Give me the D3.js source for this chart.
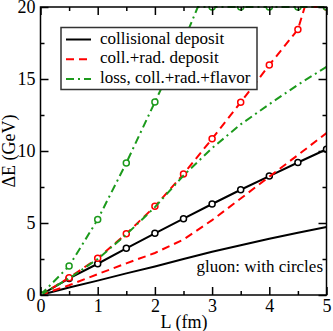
<!DOCTYPE html>
<html>
<head>
<meta charset="utf-8">
<script src="https://cdn.jsdelivr.net/npm/d3@7"></script>
<style>
  body { margin: 0; background: #fff; }
  text { font-family: "Liberation Serif", "Times New Roman", serif; fill: #000; }
</style>
</head>
<body>
<svg id="main-svg" width="333" height="331"></svg>
<script>
// values, L in fm, dE in GeV
var xTicks = [0, 1, 2, 3, 4, 5]
var yTicks = [0, 5, 10, 15, 20]
var legendLabels = ['collisional deposit', 'coll.+rad. deposit', 'loss, coll.+rad.+flavor']

var quarkCollL = [0, 0.5, 1, 1.5, 2, 2.5, 3, 3.5, 4, 4.5, 5]
var quarkColl = [0, 0.52, 1.0, 1.5, 1.98, 2.5, 3.0, 3.45, 3.9, 4.32, 4.72]
var gluonCollL = [0, 0.5, 1, 1.5, 2, 2.5, 3, 3.5, 4, 4.5, 5]
var gluonColl = [0, 1.15, 2.17, 3.24, 4.28, 5.3, 6.32, 7.31, 8.26, 9.2, 10.12]

var quarkRadL = [0, 0.5, 1, 1.5, 2, 2.5, 3, 3.5, 4, 4.5, 5]
var quarkRad = [0, 0.68, 1.45, 2.2, 2.92, 3.85, 5.2, 6.7, 8.22, 9.72, 11.25]
var gluonRadL = [0, 0.5, 1, 1.5, 2, 2.5, 3, 3.5, 4, 4.5, 4.62, 5]
var gluonRad = [0, 1.2, 2.55, 4.25, 6.16, 8.4, 10.85, 13.38, 15.97, 18.44, 20, 20]

var quarkLossL = [0, 0.5, 1, 1.5, 2, 2.5, 3, 3.5, 4, 4.5, 5]
var quarkLoss = [0, 1.15, 2.5, 4.2, 6.1, 8.3, 10.2, 11.85, 13.25, 14.6, 15.85]
var gluonLossL = [0, 0.5, 1, 1.5, 2, 2.5, 2.75, 3, 3.5, 4, 4.5, 5]
var gluonLoss = [0, 2.01, 5.24, 9.17, 13.4, 17.6, 20, 20, 20, 20, 20, 20]

var black = '#000000', red = '#ff0000', green = '#1c9a1c'
var solid = null, dashed = '8,5', dashdot = '8,4,2,4'
var serif = '"Liberation Serif", "Times New Roman", serif'

// series: [L, dE, colour, dash, circles]
var series = [
    [quarkCollL, quarkColl, black, solid, false],
    [gluonCollL, gluonColl, black, solid, true],
    [quarkRadL, quarkRad, red, dashed, false],
    [gluonRadL, gluonRad, red, dashed, true],
    [quarkLossL, quarkLoss, green, dashdot, false],
    [gluonLossL, gluonLoss, green, dashdot, true]
]

var svg = d3.select('#main-svg')
// plot frame (window.top is reserved, hence the prefix)
var pLeft = 40.5, pRight = 326.5, pTop = 7, pBottom = 295

var x = d3.scaleLinear().domain([0, 5]).range([pLeft, pRight])
var y = d3.scaleLinear().domain([0, 20]).range([pBottom, pTop])

svg.append('clipPath').attr('id', 'plot-clip')
    .append('rect')
    .attr('x', pLeft).attr('y', pTop - 1)
    .attr('width', pRight - pLeft).attr('height', pBottom - pTop + 1)

var plot = svg.append('g').attr('clip-path', 'url(#plot-clip)')
var line = d3.line().x(function(d) { return x(d[0]) }).y(function(d) { return y(d[1]) })

for (var i = 0; i < series.length; i++) {
    var s = series[i]
    var pts = d3.zip(s[0], s[1])
    plot.append('path')
        .attr('d', line(pts))
        .attr('fill', 'none')
        .attr('stroke', s[2])
        .attr('stroke-width', 2)
        .attr('stroke-dasharray', s[3])
    if (s[4]) {
        // symbols only every half fm
        plot.selectAll(null)
            .data(pts.filter(function(d) { return Math.abs(d[0] * 2 - Math.round(d[0] * 2)) < 1e-6 }))
            .enter().append('circle')
            .attr('cx', function(d) { return x(d[0]) })
            .attr('cy', function(d) { return y(d[1]) })
            .attr('r', 3)
            .attr('fill', '#fff')
            .attr('stroke', s[2])
            .attr('stroke-width', 1.5)
    }
}

// axes, ticks inside on all four sides
var xAxB = d3.axisBottom(x).tickValues(xTicks).tickSize(-8).tickPadding(4).tickFormat(d3.format('d'))
var xAxT = d3.axisTop(x).tickValues(xTicks).tickSize(-8).tickFormat('')
var yAxL = d3.axisLeft(y).tickValues(yTicks).tickSize(-8).tickPadding(5).tickFormat(d3.format('d'))
var yAxR = d3.axisRight(y).tickValues(yTicks).tickSize(-8).tickFormat('')
var xMinor = d3.range(0.5, 5, 1)
var yMinor = d3.range(2.5, 20, 5)

function styleAxis(g) {
    g.select('.domain').remove()
    g.selectAll('line').attr('stroke', '#000').attr('stroke-width', 1.5)
    g.selectAll('text').attr('font-size', 18).attr('font-family', serif)
}

svg.append('g').attr('transform', 'translate(0,' + pBottom + ')').call(xAxB).call(styleAxis)
svg.append('g').attr('transform', 'translate(0,' + pTop + ')').call(xAxT).call(styleAxis)
svg.append('g').attr('transform', 'translate(' + pLeft + ',0)').call(yAxL).call(styleAxis)
svg.append('g').attr('transform', 'translate(' + pRight + ',0)').call(yAxR).call(styleAxis)

svg.append('g').attr('transform', 'translate(0,' + pBottom + ')')
    .call(d3.axisBottom(x).tickValues(xMinor).tickSize(-4).tickFormat('')).call(styleAxis)
svg.append('g').attr('transform', 'translate(0,' + pTop + ')')
    .call(d3.axisTop(x).tickValues(xMinor).tickSize(-4).tickFormat('')).call(styleAxis)
svg.append('g').attr('transform', 'translate(' + pLeft + ',0)')
    .call(d3.axisLeft(y).tickValues(yMinor).tickSize(-4).tickFormat('')).call(styleAxis)
svg.append('g').attr('transform', 'translate(' + pRight + ',0)')
    .call(d3.axisRight(y).tickValues(yMinor).tickSize(-4).tickFormat('')).call(styleAxis)

svg.append('rect')
    .attr('x', pLeft).attr('y', pTop)
    .attr('width', pRight - pLeft).attr('height', pBottom - pTop)
    .attr('fill', 'none').attr('stroke', '#000').attr('stroke-width', 1.5)

// axis titles
svg.append('text')
    .attr('x', 184).attr('y', 328)
    .attr('text-anchor', 'middle').attr('font-size', 18)
    .text('L (fm)')
svg.append('text')
    .attr('transform', 'translate(15,151) rotate(-90)')
    .attr('text-anchor', 'middle').attr('font-size', 18)
    .text('ΔE (GeV)')

svg.append('text')
    .attr('x', 323).attr('y', 272)
    .attr('text-anchor', 'end').attr('font-size', 17)
    .text('gluon: with circles')

// legend box
var legend = svg.append('g')
legend.append('rect')
    .attr('x', 61).attr('y', 27.5).attr('width', 196).attr('height', 62)
    .attr('fill', '#fff').attr('stroke', '#333').attr('stroke-width', 1.5)
var legendStyles = [[black, solid], [red, dashed], [green, dashdot]]
for (var j = 0; j < legendLabels.length; j++) {
    var ly = 39.5 + j * 19.7
    legend.append('line')
        .attr('x1', 66).attr('x2', 91).attr('y1', ly).attr('y2', ly)
        .attr('stroke', legendStyles[j][0]).attr('stroke-width', 2)
        .attr('stroke-dasharray', legendStyles[j][1])
    legend.append('text')
        .attr('x', 100).attr('y', ly + 4)
        .attr('font-size', 17)
        .text(legendLabels[j])
}
</script>
</body>
</html>
